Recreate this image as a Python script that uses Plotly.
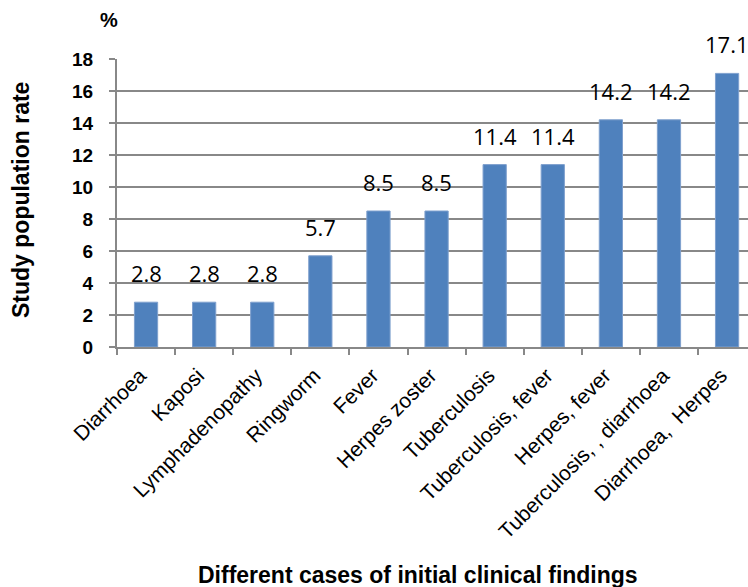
import plotly.graph_objects as go

categories = ["Diarrhoea", "Kaposi", "Lymphadenopathy", "Ringworm", "Fever",
              "Herpes zoster", "Tuberculosis", "Tuberculosis, fever",
              "Herpes, fever", "Tuberculosis, , diarrhoea", "Diarrhoea,  Herpes"]
rates = [2.8, 2.8, 2.8, 5.7, 8.5, 8.5, 11.4, 11.4, 14.2, 14.2, 17.1]
y_ticks = [0, 2, 4, 6, 8, 10, 12, 14, 16, 18]

BAR = "#4F81BD"
GRID = "#888888"
SANS = "Liberation Sans, Arial, sans-serif"

W, H = 748, 587
ML, MR, MT, MB = 117, 0, 59, 240
PW, PH = W - ML - MR, H - MT - MB


def px_to_paper(px, py):
    """Convert a canvas pixel position to plot-area paper coordinates."""
    return (px - ML) / PW, (H - MB - py) / PH


fig = go.Figure()
fig.add_trace(go.Bar(
    x=categories, y=rates,
    width=0.4,
    marker=dict(color=BAR, line=dict(color="#7FA0CE", width=1)),
))

# value labels above each bar
annotations = [
    dict(x=c, y=v, text=f"{v:.1f}", xref="x", yref="y",
         xanchor="center", yanchor="bottom", yshift=12, showarrow=False,
         font=dict(family="Open Sans, DejaVu Sans, sans-serif", size=22, color="black"))
    for c, v in zip(categories, rates)
]

px, py = px_to_paper(109, 20)
annotations.append(dict(text="<b>%</b>", xref="paper", yref="paper", x=px, y=py,
                        xanchor="center", yanchor="middle", showarrow=False,
                        font=dict(size=20)))
px, py = px_to_paper(21, 200)
annotations.append(dict(text="<b>Study population rate</b>", xref="paper", yref="paper",
                        x=px, y=py, xanchor="center", yanchor="middle",
                        textangle=-90, showarrow=False, font=dict(size=23)))
px, py = px_to_paper(418, 575)
annotations.append(dict(text="<b>Different cases of initial clinical findings</b>",
                        xref="paper", yref="paper", x=px, y=py, xanchor="center",
                        yanchor="middle", showarrow=False, font=dict(size=23)))

fig.update_layout(
    width=W, height=H,
    margin=dict(l=ML, r=MR, t=MT, b=MB),
    paper_bgcolor="white", plot_bgcolor="white",
    showlegend=False,
    font=dict(family=SANS, color="black"),
    xaxis=dict(
        type="category",
        range=[-0.5, 10.36],
        tickangle=-45,
        tickfont=dict(size=21),
        ticklabelstandoff=6,
        ticklabelshift=-6,
        showline=True, linecolor=GRID, linewidth=2,
        ticks="outside", ticklen=6, tickcolor=GRID, tickwidth=2,
        tickson="boundaries",
        showgrid=False,
    ),
    yaxis=dict(
        range=[0, 18],
        tickvals=y_ticks,
        tickfont=dict(size=19, family=SANS, weight="bold"),
        ticklabelstandoff=12,
        showline=True, linecolor=GRID, linewidth=2,
        ticks="outside", ticklen=6, tickcolor=GRID, tickwidth=2,
        showgrid=True, gridcolor=GRID, gridwidth=1.5,
        zeroline=False,
    ),
    annotations=annotations,
)

fig.write_html("out.html")
